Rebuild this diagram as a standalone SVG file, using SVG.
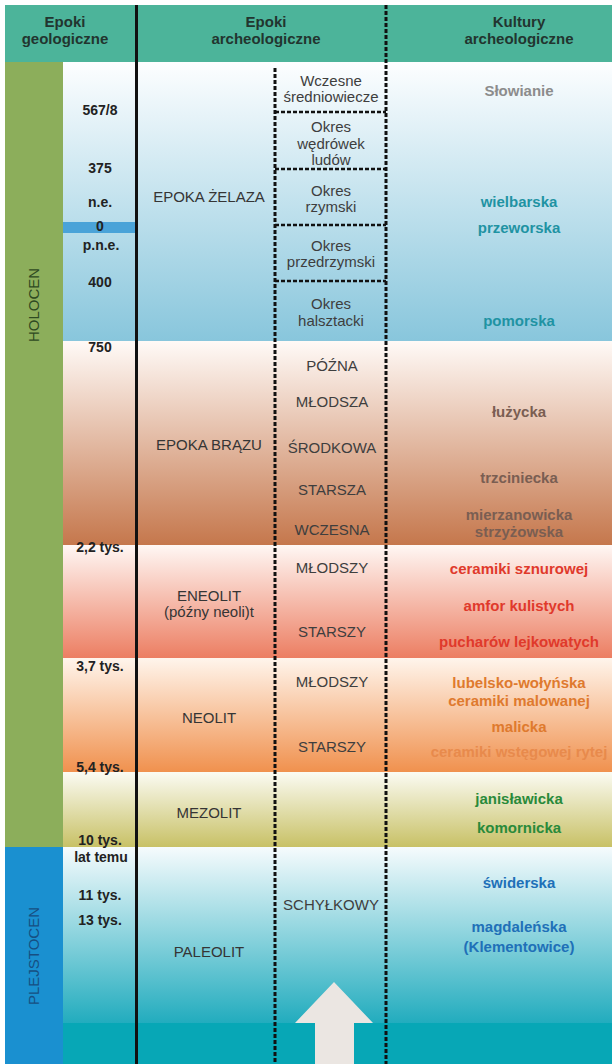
<svg xmlns="http://www.w3.org/2000/svg" width="612" height="1064" viewBox="0 0 612 1064">
<style>
text{font-family:"Liberation Sans",Arial,sans-serif}
.hd{font-size:15px;font-weight:bold;fill:#22352f;text-anchor:middle}
.dt{font-size:14px;font-weight:bold;fill:#222;text-anchor:middle}
.ep{font-size:15px;fill:#353535;text-anchor:middle}
.sb{font-size:15px;fill:#3e3e3e;text-anchor:middle}
.ku{font-size:15px;font-weight:bold;text-anchor:middle}
.solid{stroke:#111;stroke-width:3;fill:none}
.dash{stroke:#111;stroke-width:3;stroke-dasharray:4 2;fill:none}
.hdash{stroke:#111;stroke-width:2.5;stroke-dasharray:4 2;fill:none}
</style>
<defs>
<linearGradient id="gFe" x1="0" y1="0" x2="0" y2="1"><stop offset="0" stop-color="#fdfeff"/><stop offset="1" stop-color="#88c6dc"/></linearGradient>
<linearGradient id="gBr" x1="0" y1="0" x2="0" y2="1"><stop offset="0" stop-color="#fffaf7"/><stop offset="1" stop-color="#c5774c"/></linearGradient>
<linearGradient id="gEn" x1="0" y1="0" x2="0" y2="1"><stop offset="0" stop-color="#fff7f4"/><stop offset="1" stop-color="#ec7e62"/></linearGradient>
<linearGradient id="gNe" x1="0" y1="0" x2="0" y2="1"><stop offset="0" stop-color="#fff5ec"/><stop offset="1" stop-color="#f0914e"/></linearGradient>
<linearGradient id="gMe" x1="0" y1="0" x2="0" y2="1"><stop offset="0" stop-color="#fbfbf3"/><stop offset="1" stop-color="#c8c166"/></linearGradient>
<linearGradient id="gPa" x1="0" y1="0" x2="0" y2="1"><stop offset="0" stop-color="#f6fbfd"/><stop offset="1" stop-color="#22acbe"/></linearGradient>
</defs>
<rect x="0" y="0" width="612" height="1064" fill="#ffffff"/>

<g id="header">
<rect x="5" y="5" width="607" height="57" fill="#4cb49a"/>
<text class="hd" x="65" y="27">Epoki</text>
<text class="hd" x="65" y="44">geologiczne</text>
<text class="hd" x="266" y="27">Epoki</text>
<text class="hd" x="266" y="44">archeologiczne</text>
<text class="hd" x="519" y="27">Kultury</text>
<text class="hd" x="519" y="44">archeologiczne</text>
</g>

<g id="bands">
<rect x="63" y="62" width="549" height="279" fill="url(#gFe)"/>
<rect x="63" y="341" width="549" height="204" fill="url(#gBr)"/>
<rect x="63" y="545" width="549" height="113" fill="url(#gEn)"/>
<rect x="63" y="658" width="549" height="114" fill="url(#gNe)"/>
<rect x="63" y="772" width="549" height="75" fill="url(#gMe)"/>
<rect x="63" y="847" width="549" height="176" fill="url(#gPa)"/>
<rect x="63" y="1023" width="549" height="41" fill="#07a7b6"/>
<rect x="63" y="222" width="73" height="11" fill="#4aa3d8"/>
</g>

<g id="holocen">
<rect x="5" y="62" width="58" height="785" fill="#8cae5b"/>
<text transform="translate(34,305) rotate(-90)" x="0" y="5.4" font-size="15" fill="#2e4a22" text-anchor="middle">HOLOCEN</text>
</g>
<g id="plejstocen">
<rect x="5" y="847" width="58" height="217" fill="#1a90d0"/>
<text transform="translate(34,956) rotate(-90)" x="0" y="5.4" font-size="15" fill="#174f82" text-anchor="middle">PLEJSTOCEN</text>
</g>

<g id="dates">
<text class="dt" x="100" y="115">567/8</text>
<text class="dt" x="100" y="173">375</text>
<text class="dt" x="100" y="207">n.e.</text>
<text class="dt" x="100" y="231">0</text>
<text class="dt" x="101" y="250">p.n.e.</text>
<text class="dt" x="100" y="287">400</text>
<text class="dt" x="100" y="352">750</text>
<text class="dt" x="100" y="552">2,2 tys.</text>
<text class="dt" x="100" y="671">3,7 tys.</text>
<text class="dt" x="100" y="772">5,4 tys.</text>
<text class="dt" x="100" y="845">10 tys.</text>
<text class="dt" x="101" y="862">lat temu</text>
<text class="dt" x="100" y="900">11 tys.</text>
<text class="dt" x="100" y="925">13 tys.</text>
</g>

<g id="epoka-zelaza"><text class="ep" x="209" y="202">EPOKA ŻELAZA</text></g>
<g id="epoka-brazu"><text class="ep" x="209" y="450">EPOKA BRĄZU</text></g>
<g id="eneolit"><text class="ep" x="209" y="601">ENEOLIT</text><text class="ep" x="209" y="617">(późny neoli)t</text></g>
<g id="neolit"><text class="ep" x="209" y="723">NEOLIT</text></g>
<g id="mezolit"><text class="ep" x="209" y="818">MEZOLIT</text></g>
<g id="paleolit"><text class="ep" x="209" y="957">PALEOLIT</text></g>

<g id="okresy">
<text class="sb" x="331" y="86">Wczesne</text>
<text class="sb" x="331" y="102">średniowiecze</text>
<text class="sb" x="331" y="132">Okres</text>
<text class="sb" x="331" y="148.5">wędrówek</text>
<text class="sb" x="331" y="165">ludów</text>
<text class="sb" x="331" y="196">Okres</text>
<text class="sb" x="331" y="212">rzymski</text>
<text class="sb" x="331" y="251">Okres</text>
<text class="sb" x="331" y="267">przedrzymski</text>
<text class="sb" x="331" y="309">Okres</text>
<text class="sb" x="331" y="326">halsztacki</text>
<text class="sb" x="332" y="371">PÓŹNA</text>
<text class="sb" x="332" y="407">MŁODSZA</text>
<text class="sb" x="332" y="453">ŚRODKOWA</text>
<text class="sb" x="332" y="495">STARSZA</text>
<text class="sb" x="332" y="535">WCZESNA</text>
<text class="sb" x="332" y="573">MŁODSZY</text>
<text class="sb" x="332" y="637">STARSZY</text>
<text class="sb" x="332" y="687">MŁODSZY</text>
<text class="sb" x="332" y="752">STARSZY</text>
<text class="sb" x="331" y="910">SCHYŁKOWY</text>
</g>

<g id="kultury">
<text class="ku" x="519" y="96" fill="#8c8c8c">Słowianie</text>
<text class="ku" x="519" y="207" fill="#1f93a3">wielbarska</text>
<text class="ku" x="519" y="233" fill="#1f93a3">przeworska</text>
<text class="ku" x="519" y="326" fill="#1f93a3">pomorska</text>
<text class="ku" x="519" y="417" fill="#7a5e52">łużycka</text>
<text class="ku" x="519" y="483" fill="#7a5e52">trzciniecka</text>
<text class="ku" x="519" y="520" fill="#7a5e52">mierzanowicka</text>
<text class="ku" x="519" y="537" fill="#7a5e52">strzyżowska</text>
<text class="ku" x="519" y="574" fill="#e0392b">ceramiki sznurowej</text>
<text class="ku" x="519" y="611" fill="#e0392b">amfor kulistych</text>
<text class="ku" x="519" y="647" fill="#e0392b">pucharów lejkowatych</text>
<text class="ku" x="519" y="688" fill="#df7a2e">lubelsko-wołyńska</text>
<text class="ku" x="519" y="706" fill="#df7a2e">ceramiki malowanej</text>
<text class="ku" x="519" y="732" fill="#df7a2e">malicka</text>
<text class="ku" x="519" y="757" fill="#e88a4c">ceramiki wstęgowej rytej</text>
<text class="ku" x="519" y="804" fill="#2a8a3a">janisławicka</text>
<text class="ku" x="519" y="833" fill="#2a8a3a">komornicka</text>
<text class="ku" x="519" y="888" fill="#2070b8">świderska</text>
<text class="ku" x="519" y="932" fill="#2070b8">magdaleńska</text>
<text class="ku" x="519" y="952" fill="#2070b8">(Klementowice)</text>
</g>

<g id="arrow">
<polygon points="334,982 373,1023 354,1023 354,1064 315,1064 315,1023 295,1023" fill="#ebe6e2"/>
</g>

<g id="connectors">
<line class="solid" x1="136.5" y1="5" x2="136.5" y2="1064"/>
<line class="dash" x1="386" y1="5" x2="386" y2="1064"/>
<line class="dash" x1="275" y1="68" x2="275" y2="1064"/>
<line class="hdash" x1="275" y1="112" x2="386" y2="112"/>
<line class="hdash" x1="275" y1="169" x2="386" y2="169"/>
<line class="hdash" x1="275" y1="225" x2="386" y2="225"/>
<line class="hdash" x1="275" y1="281" x2="386" y2="281"/>
</g>
</svg>
